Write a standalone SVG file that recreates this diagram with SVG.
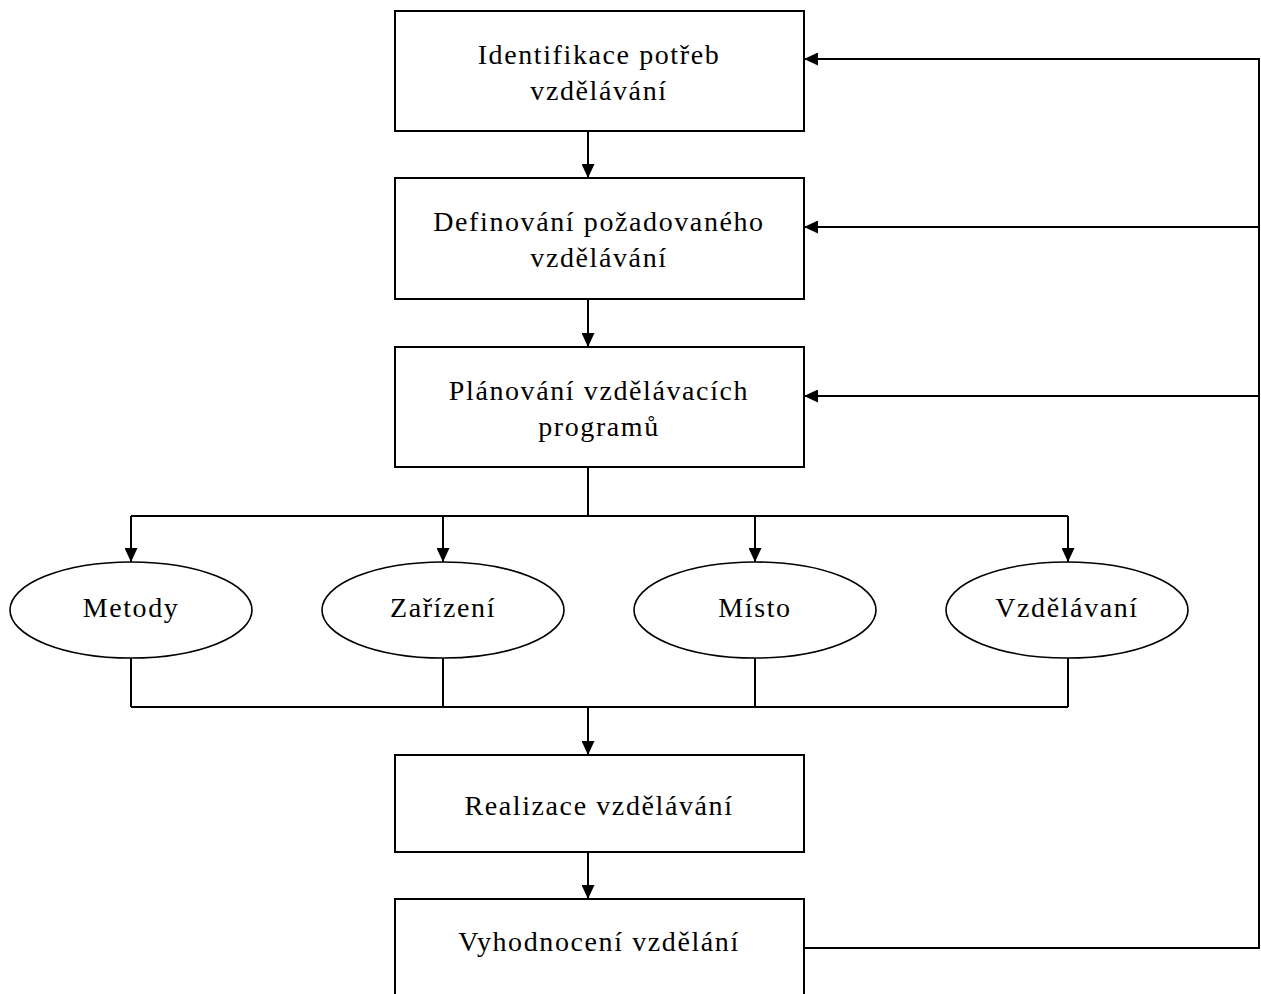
<svg xmlns="http://www.w3.org/2000/svg" width="1261" height="994" viewBox="0 0 1261 994">
<style>
.box{fill:#fff;stroke:#000;stroke-width:2}
.ell{fill:#fff;stroke:#000;stroke-width:1.6}
.t{font-family:"Liberation Serif","Times New Roman",serif;font-size:28px;letter-spacing:1.6px;fill:#000;text-anchor:middle}
.c{fill:none;stroke:#000;stroke-width:2}
</style>
<defs>
<marker id="ah" markerUnits="userSpaceOnUse" markerWidth="15" markerHeight="13" refX="14" refY="6.5" orient="auto">
<path d="M0,0 L14,6.5 L0,13 Z" fill="#000"/>
</marker>
</defs>
<rect width="1261" height="994" fill="#fff"/>
<g id="connectors">
<path class="c" d="M588,131 V178" marker-end="url(#ah)"/>
<path class="c" d="M588,299 V347" marker-end="url(#ah)"/>
<path class="c" d="M588,467 V516"/>
<path class="c" d="M131,516 H1068"/>
<path class="c" d="M131,516 V562" marker-end="url(#ah)"/>
<path class="c" d="M443,516 V562" marker-end="url(#ah)"/>
<path class="c" d="M755,516 V562" marker-end="url(#ah)"/>
<path class="c" d="M1068,516 V562" marker-end="url(#ah)"/>
<path class="c" d="M131,658 V707 M443,658 V707 M755,658 V707 M1068,658 V707"/>
<path class="c" d="M131,707 H1068"/>
<path class="c" d="M588,707 V755" marker-end="url(#ah)"/>
<path class="c" d="M588,852 V899" marker-end="url(#ah)"/>
<path class="c" d="M804,948 H1259 V59 H804" marker-end="url(#ah)"/>
<path class="c" d="M1259,227 H804" marker-end="url(#ah)"/>
<path class="c" d="M1259,396 H804" marker-end="url(#ah)"/>
</g>
<g id="n1">
<rect class="box" x="395" y="11" width="409" height="120"/>
<text class="t" x="599" y="64">Identifikace potřeb</text>
<text class="t" x="599" y="100">vzdělávání</text>
</g>
<g id="n2">
<rect class="box" x="395" y="178" width="409" height="121"/>
<text class="t" x="599" y="231">Definování požadovaného</text>
<text class="t" x="599" y="267">vzdělávání</text>
</g>
<g id="n3">
<rect class="box" x="395" y="347" width="409" height="120"/>
<text class="t" x="599" y="400">Plánování vzdělávacích</text>
<text class="t" x="599" y="436">programů</text>
</g>
<g id="e1">
<ellipse class="ell" cx="131" cy="610" rx="121" ry="48"/>
<text class="t" x="131" y="617">Metody</text>
</g>
<g id="e2">
<ellipse class="ell" cx="443" cy="610" rx="121" ry="48"/>
<text class="t" x="443" y="617">Zařízení</text>
</g>
<g id="e3">
<ellipse class="ell" cx="755" cy="610" rx="121" ry="48"/>
<text class="t" x="755" y="617">Místo</text>
</g>
<g id="e4">
<ellipse class="ell" cx="1067" cy="610" rx="121" ry="48"/>
<text class="t" x="1067" y="617">Vzdělávaní</text>
</g>
<g id="n4">
<rect class="box" x="395" y="755" width="409" height="97"/>
<text class="t" x="599" y="815">Realizace vzdělávání</text>
</g>
<g id="n5">
<rect class="box" x="395" y="899" width="409" height="130"/>
<text class="t" x="599" y="951">Vyhodnocení vzdělání</text>
</g>
</svg>
